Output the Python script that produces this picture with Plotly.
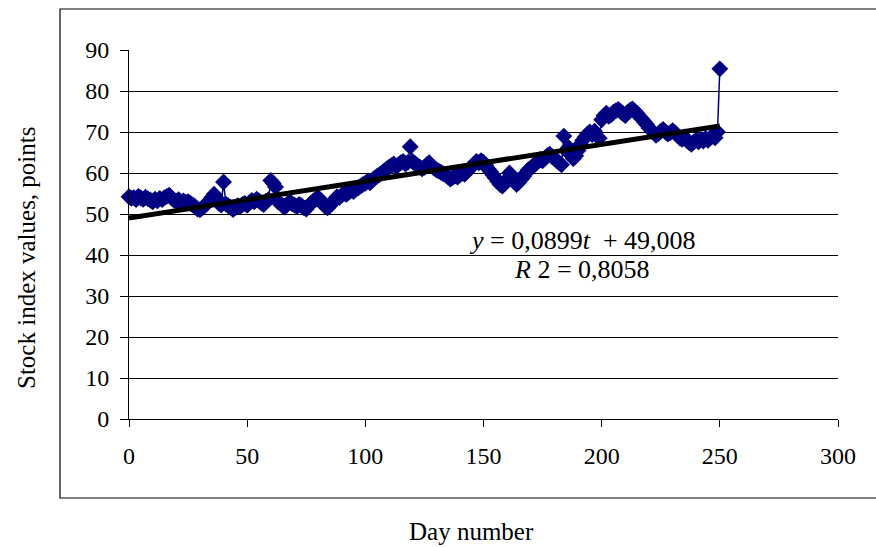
import plotly.graph_objects as go

# ---- data ----
days = list(range(0, 251))
index_values = [
    54.2, 53.8, 54.0, 53.5, 54.3, 53.9, 53.6, 54.1, 53.7, 53.4,
    53.0, 53.6, 53.2, 53.8, 53.5, 54.0, 54.3, 54.6, 53.9, 53.4,
    53.1, 53.5, 52.9, 53.2, 52.8, 53.0, 52.6, 52.2, 51.8, 51.2,
    51.0, 51.5, 52.0, 52.6, 53.2, 54.0, 54.8, 53.9, 52.6, 52.2,
    57.8, 52.4, 52.0, 51.6, 51.1, 51.5, 52.0, 51.8, 52.3, 52.6,
    52.1, 52.8, 53.3, 53.0, 53.6, 53.2, 52.7, 52.3, 53.1, 53.5,
    58.2, 57.5, 56.6, 53.0, 52.6, 52.0, 51.7, 52.4, 53.0, 52.5,
    52.2, 51.8, 52.3, 52.0, 51.5, 51.2, 52.0, 52.6, 53.2, 53.6,
    54.0, 53.4, 52.6, 51.8, 51.5, 52.0, 52.8, 53.5, 54.2, 54.0,
    54.6, 55.0, 54.8, 55.3, 55.8, 55.5, 56.0, 56.4, 56.8, 57.2,
    57.5, 58.0, 57.6, 58.3, 58.8, 59.2, 59.6, 60.0, 60.5, 61.0,
    61.4, 61.8, 62.2, 61.6, 62.0, 62.5, 62.8, 62.2, 62.6, 66.4,
    62.8, 62.3, 61.8, 61.5, 61.0, 61.4, 62.0, 62.5, 61.8, 61.2,
    60.8, 60.5, 60.2, 59.8, 59.5, 59.0, 58.5, 58.9, 59.3, 59.0,
    59.5, 60.0, 59.7, 60.4, 61.0, 61.6, 62.2, 62.8, 62.5, 63.0,
    62.6, 61.8, 61.0, 60.3, 59.5, 58.8, 58.0, 57.2, 56.8, 57.5,
    58.5, 60.0, 59.2, 58.0, 57.2, 57.8, 58.5, 59.2, 60.0, 60.8,
    61.2, 61.8, 62.2, 62.8, 63.3, 63.0, 63.6, 64.2, 64.6, 64.0,
    63.5, 63.0, 62.5, 62.0, 69.0, 65.5, 66.2, 65.0, 63.5, 64.2,
    65.5, 67.0, 68.0, 68.8, 69.5, 70.0, 69.4, 70.2, 69.0, 68.5,
    73.0, 74.0, 74.6, 73.8, 74.2, 74.8, 75.2, 75.5, 75.0, 74.5,
    74.0, 74.8, 75.3, 75.6, 75.1, 74.5, 73.8, 73.2, 72.5, 71.8,
    71.0, 70.4, 69.8, 69.2, 69.6, 70.2, 70.6, 70.0, 69.5, 69.8,
    70.3, 69.8, 69.2, 68.6, 68.2, 68.8, 68.0, 67.4, 67.0, 67.6,
    68.0, 67.6, 68.2, 67.8, 68.4, 68.0, 68.6, 69.0, 68.6, 70.0,
    85.4,
]
trend_slope = 0.0899
trend_intercept = 49.008
trend_days = [0, 250]
trend_values = [trend_intercept + trend_slope * d for d in trend_days]

x_ticks = [0, 50, 100, 150, 200, 250, 300]
y_ticks = [0, 10, 20, 30, 40, 50, 60, 70, 80, 90]

eq_line1 = "<i>y</i> = 0,0899<i>t</i> \u00a0+ 49,008"
eq_line2 = "<i>R</i> 2 = 0,8058"
x_title = "Day number"
y_title = "Stock index values, points"

FONT = "Liberation Serif, Times New Roman, serif"
NAVY = "#000080"

fig = go.Figure()
fig.add_trace(go.Scatter(
    x=days, y=index_values, mode="lines+markers",
    line=dict(color=NAVY, width=1.5),
    marker=dict(symbol="diamond", size=13, color=NAVY),
    cliponaxis=False, hoverinfo="skip",
))
fig.add_trace(go.Scatter(
    x=trend_days, y=trend_values, mode="lines",
    line=dict(color="black", width=5),
    cliponaxis=False, hoverinfo="skip",
))

L, R, T, B = 129, 38, 50, 128
W, H = 876, 547
pw, ph = W - L - R, H - T - B

def px_x(p):
    return (p - L) / pw

def px_y(p):
    return (H - B - p) / ph

fig.update_layout(
    width=W, height=H,
    margin=dict(l=L, r=R, t=T, b=B),
    paper_bgcolor="white", plot_bgcolor="white",
    showlegend=False,
    font=dict(family=FONT, size=24, color="black"),
    xaxis=dict(
        range=[0, 300], tickvals=x_ticks, ticktext=[str(v) for v in x_ticks],
        showgrid=False, zeroline=False,
        showline=True, linecolor="black", linewidth=1,
        ticks="outside", ticklen=7, tickcolor="black", tickwidth=1,
        ticklabelstandoff=8,
        tickfont=dict(family=FONT, size=24, color="black"),
    ),
    yaxis=dict(
        range=[0, 90], tickvals=y_ticks, ticktext=[str(v) for v in y_ticks],
        showgrid=True, gridcolor="black", gridwidth=1, zeroline=False,
        showline=True, linecolor="black", linewidth=1,
        ticks="outside", ticklen=8, tickcolor="black", tickwidth=1,
        ticklabelstandoff=6,
        tickfont=dict(family=FONT, size=24, color="black"),
    ),
    shapes=[dict(
        type="rect", xref="paper", yref="paper",
        x0=px_x(60), x1=px_x(882), y0=px_y(498), y1=px_y(9),
        line=dict(color="black", width=1.2), fillcolor="rgba(0,0,0,0)",
        layer="below",
    )],
    annotations=[
        dict(text=eq_line1, xref="paper", yref="paper", x=px_x(582), y=px_y(240),
             showarrow=False, xanchor="center", yanchor="middle",
             font=dict(family=FONT, size=26, color="black")),
        dict(text=eq_line2, xref="paper", yref="paper", x=px_x(582), y=px_y(269),
             showarrow=False, xanchor="center", yanchor="middle",
             font=dict(family=FONT, size=26, color="black")),
        dict(text=x_title, xref="paper", yref="paper", x=px_x(471), y=px_y(531),
             showarrow=False, xanchor="center", yanchor="middle",
             font=dict(family=FONT, size=25, color="black")),
        dict(text=y_title, xref="paper", yref="paper", x=px_x(26), y=px_y(258),
             showarrow=False, xanchor="center", yanchor="middle", textangle=-90,
             font=dict(family=FONT, size=25, color="black")),
    ],
)

fig.write_html(
    "out.html",
    config={"displayModeBar": False},
    post_script="document.body.style.margin='0';document.body.style.padding='0';",
)
